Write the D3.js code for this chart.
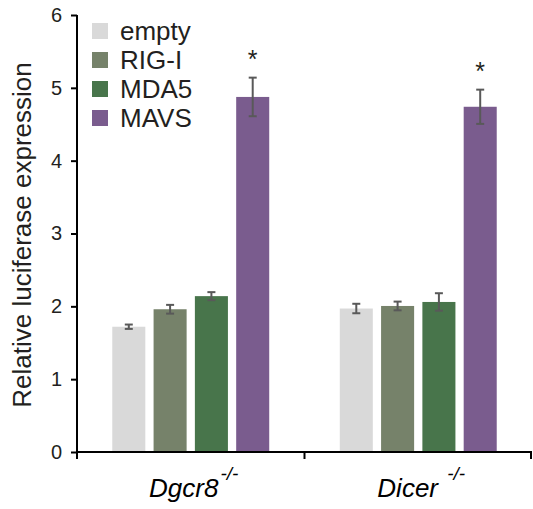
<!DOCTYPE html>
<html><head><meta charset="utf-8">
<script src="https://cdn.jsdelivr.net/npm/d3@7"></script>
<style>body{margin:0;background:#fff;} svg{display:block;font-family:Arial,"Liberation Sans",sans-serif;}</style>
</head><body>
<script>
const groups = ["Dgcr8", "Dicer"];
const groupSuffix = ["", " "];
const series = ["empty", "RIG-I", "MDA5", "MAVS"];
const colors = ["#d9d9d9", "#76826a", "#48754b", "#7a5c8e"];
const values = [[1.72, 1.96, 2.14, 4.875], [1.97, 2.005, 2.06, 4.74]];
const errors = [[0.03, 0.06, 0.055, 0.265], [0.065, 0.06, 0.12, 0.235]];
const stars = [[false, false, false, true], [false, false, false, true]];
const yTicks = [0, 1, 2, 3, 4, 5, 6];

const W = 533, H = 509;
const svg = d3.select("body").append("svg").attr("width", W).attr("height", H);
const x0 = d3.scaleBand().domain(groups).range([77, 532]).paddingInner(0).paddingOuter(0);
const x1 = d3.scaleBand().domain(series).range([0, x0.bandwidth()]).paddingInner(0.2).paddingOuter(0.854);
const y = d3.scaleLinear().domain([0, 6]).range([452, 15]);
const col = d3.scaleOrdinal().domain(series).range(colors);
const txt = "#231f20";

// bars
groups.forEach((g, gi) => {
  const gg = svg.append("g").attr("transform", `translate(${x0(g)},0)`);
  series.forEach((s, si) => {
    const v = values[gi][si], e = errors[gi][si];
    const bx = x1(s), bw = x1.bandwidth(), cx = bx + bw / 2;
    gg.append("rect").attr("x", bx).attr("y", y(v)).attr("width", bw).attr("height", y(0) - y(v)).attr("fill", col(s));
    gg.append("line").attr("x1", cx).attr("x2", cx).attr("y1", y(v + e)).attr("y2", y(v - e)).attr("stroke", "#595959").attr("stroke-width", 2);
    [v + e, v - e].forEach(t => gg.append("line").attr("x1", cx - 4).attr("x2", cx + 4).attr("y1", y(t)).attr("y2", y(t)).attr("stroke", "#595959").attr("stroke-width", 2));
    if (stars[gi][si]) {
      gg.append("text").attr("x", cx).attr("y", y(v + e) - 10).attr("text-anchor", "middle").attr("font-size", 25).attr("fill", txt).text("*");
    }
  });
});

// y axis
const yAxis = svg.append("g").attr("transform", "translate(77,0)")
  .call(d3.axisLeft(y).tickValues(yTicks).tickFormat(d3.format("d")).tickSize(6).tickPadding(9));
yAxis.select(".domain").attr("stroke", "#000").attr("stroke-width", 2).attr("d", `M0,${y(0)}V${y(6)}`);
yAxis.selectAll(".tick line").attr("stroke", "#000").attr("stroke-width", 2);
yAxis.selectAll(".tick text").attr("font-size", 20).attr("fill", txt).attr("font-family", "Arial,'Liberation Sans',sans-serif");

// x axis
const xAxis = svg.append("g").attr("transform", `translate(0,${y(0)})`);
xAxis.append("line").attr("x1", 77).attr("x2", 532).attr("y1", 0).attr("y2", 0).attr("stroke", "#000").attr("stroke-width", 2);
[77, x0("Dicer"), 531].forEach(px => xAxis.append("line").attr("x1", px).attr("x2", px).attr("y1", 0).attr("y2", 7).attr("stroke", "#000").attr("stroke-width", 2));
groups.forEach((g, gi) => {
  const t = svg.append("text").attr("x", x0(g) + x0.bandwidth() / 2 + 3).attr("y", 497)
    .attr("text-anchor", "middle").attr("font-size", 26).attr("font-style", "italic").attr("fill", "#000");
  t.append("tspan").text(g + groupSuffix[gi]);
  t.append("tspan").attr("dy", -17).attr("dx", 2).attr("font-size", 19).text("-/-");
});

// y title
svg.append("text").attr("transform", "translate(31,235) rotate(-90)").attr("text-anchor", "middle")
  .attr("font-size", 26).attr("fill", txt).text("Relative luciferase expression");

// legend
const leg = svg.append("g");
series.forEach((s, i) => {
  const cy = 31 + i * 29;
  leg.append("rect").attr("x", 92).attr("y", cy - 8).attr("width", 16).attr("height", 16).attr("fill", col(s));
  leg.append("text").attr("x", 120).attr("y", cy + 9).attr("font-size", 26).attr("fill", txt).text(s);
});
</script>
</body></html>
